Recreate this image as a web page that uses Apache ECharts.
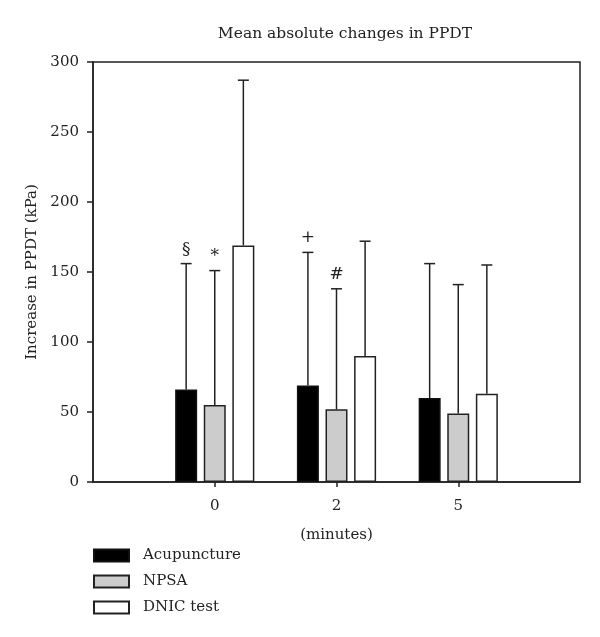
<!DOCTYPE html>
<html>
<head>
<meta charset="utf-8">
<script src="https://cdn.jsdelivr.net/npm/echarts@6/dist/echarts.min.js"></script>
<style>html,body{margin:0;padding:0;background:#fff}#c{width:600px;height:637px}</style>
</head>
<body>
<div id="c"></div>
<script>
const categories = ['', '0', '2', '5', ''];
const seriesNames = ['Acupuncture', 'NPSA', 'DNIC test'];
const acupuncture = ['-', 66, 69, 60, '-'];
const npsa = ['-', 55, 52, 49, '-'];
const dnic = ['-', 169, 90, 63, '-'];
const acupunctureErrTop = [null, 156, 164, 156, null];
const npsaErrTop = [null, 151, 138, 141, null];
const dnicErrTop = [null, 287, 172, 155, null];
const acupunctureMarks = ['', '§', '+', '', ''];
const npsaMarks = ['', '*', '#', '', ''];
const dnicMarks = ['', '', '', '', ''];
const yTicks = [0, 50, 100, 150, 200, 250, 300];

const FONT = '"DejaVu Serif", "Liberation Serif", serif';
const FS = 15;
const BAR_W = 22, GAP = 6.6;
const offsets = [-(BAR_W + GAP), 0, BAR_W + GAP];

function errData(tops, marks) {
  const out = [];
  tops.forEach((t, i) => { if (t != null) out.push([i, t, marks[i]]); });
  return out;
}
function errSeries(tops, marks, si) {
  return {
    type: 'custom',
    z: 5,
    silent: true,
    data: errData(tops, marks),
    renderItem: function (params, api) {
      const idx = api.value(0);
      const top = api.value(1);
      const values = [acupuncture, npsa, dnic][si];
      const base = api.coord([idx, values[idx]]);
      const p = api.coord([idx, top]);
      const x = p[0] + offsets[si];
      const children = [
        { type: 'line', shape: { x1: x, y1: base[1], x2: x, y2: p[1] }, style: { stroke: '#222', lineWidth: 1.5 } },
        { type: 'line', shape: { x1: x - 5.5, y1: p[1], x2: x + 5.5, y2: p[1] }, style: { stroke: '#222', lineWidth: 1.5 } }
      ];
      const m = marks[idx];
      if (m) {
        children.push({ type: 'text', style: { text: m, x: x, y: p[1] - 6, align: 'center', verticalAlign: 'bottom', fill: '#222', font: '17px ' + FONT } });
      }
      return { type: 'group', children: children };
    }
  };
}

const chart = echarts.init(document.getElementById('c'));
chart.setOption({
  animation: false,
  backgroundColor: '#fff',
  title: {
    text: 'Mean absolute changes in PPDT',
    left: 340, top: 21, textAlign: 'center',
    textStyle: { fontFamily: FONT, fontSize: 15.5, fontWeight: 'normal', color: '#222' }
  },
  legend: {
    orient: 'vertical', left: 93, top: 548, padding: 0,
    itemWidth: 35, itemHeight: 12, itemGap: 11,
    icon: 'rect',
    data: seriesNames,
    textStyle: { fontFamily: FONT, fontSize: FS, lineHeight: 14, color: '#222', padding: [0, 0, 0, 9] }
  },
  grid: {
    left: 93, right: 20, top: 62, bottom: 155,
    show: true, borderColor: '#222', borderWidth: 1.5, backgroundColor: 'transparent'
  },
  xAxis: {
    type: 'category', data: categories, boundaryGap: false,
    name: '(minutes)', nameLocation: 'middle', nameGap: 46,
    nameTextStyle: { fontFamily: FONT, fontSize: FS, color: '#222' },
    axisLine: { lineStyle: { color: '#222', width: 1.5 } },
    axisTick: { interval: function (i) { return i >= 1 && i <= 3; }, length: 5, lineStyle: { color: '#222', width: 1.5 } },
    axisLabel: { interval: 0, margin: 17, fontFamily: FONT, fontSize: FS, color: '#222' },
    splitLine: { show: false }
  },
  yAxis: {
    type: 'value', min: yTicks[0], max: yTicks[yTicks.length - 1], interval: 50,
    name: 'Increase in PPDT (kPa)', nameLocation: 'middle', nameGap: 48,
    nameTextStyle: { fontFamily: FONT, fontSize: FS, color: '#222' },
    axisLine: { show: true, lineStyle: { color: '#222', width: 1.5 } },
    axisTick: { show: true, length: 6, lineStyle: { color: '#222', width: 1.5 } },
    axisLabel: { margin: 14, fontFamily: FONT, fontSize: FS, color: '#222' },
    splitLine: { show: false }
  },
  series: [
    { name: seriesNames[0], type: 'bar', data: acupuncture, barWidth: BAR_W, barGap: '30%',
      itemStyle: { color: '#000', borderColor: '#111', borderWidth: 1.5 } },
    { name: seriesNames[1], type: 'bar', data: npsa, barWidth: BAR_W, barGap: '30%',
      itemStyle: { color: '#cccccc', borderColor: '#222', borderWidth: 1.5 } },
    { name: seriesNames[2], type: 'bar', data: dnic, barWidth: BAR_W, barGap: '30%',
      itemStyle: { color: '#fff', borderColor: '#222', borderWidth: 1.5 } },
    errSeries(acupunctureErrTop, acupunctureMarks, 0),
    errSeries(npsaErrTop, npsaMarks, 1),
    errSeries(dnicErrTop, dnicMarks, 2)
  ]
});
</script>
</body>
</html>
